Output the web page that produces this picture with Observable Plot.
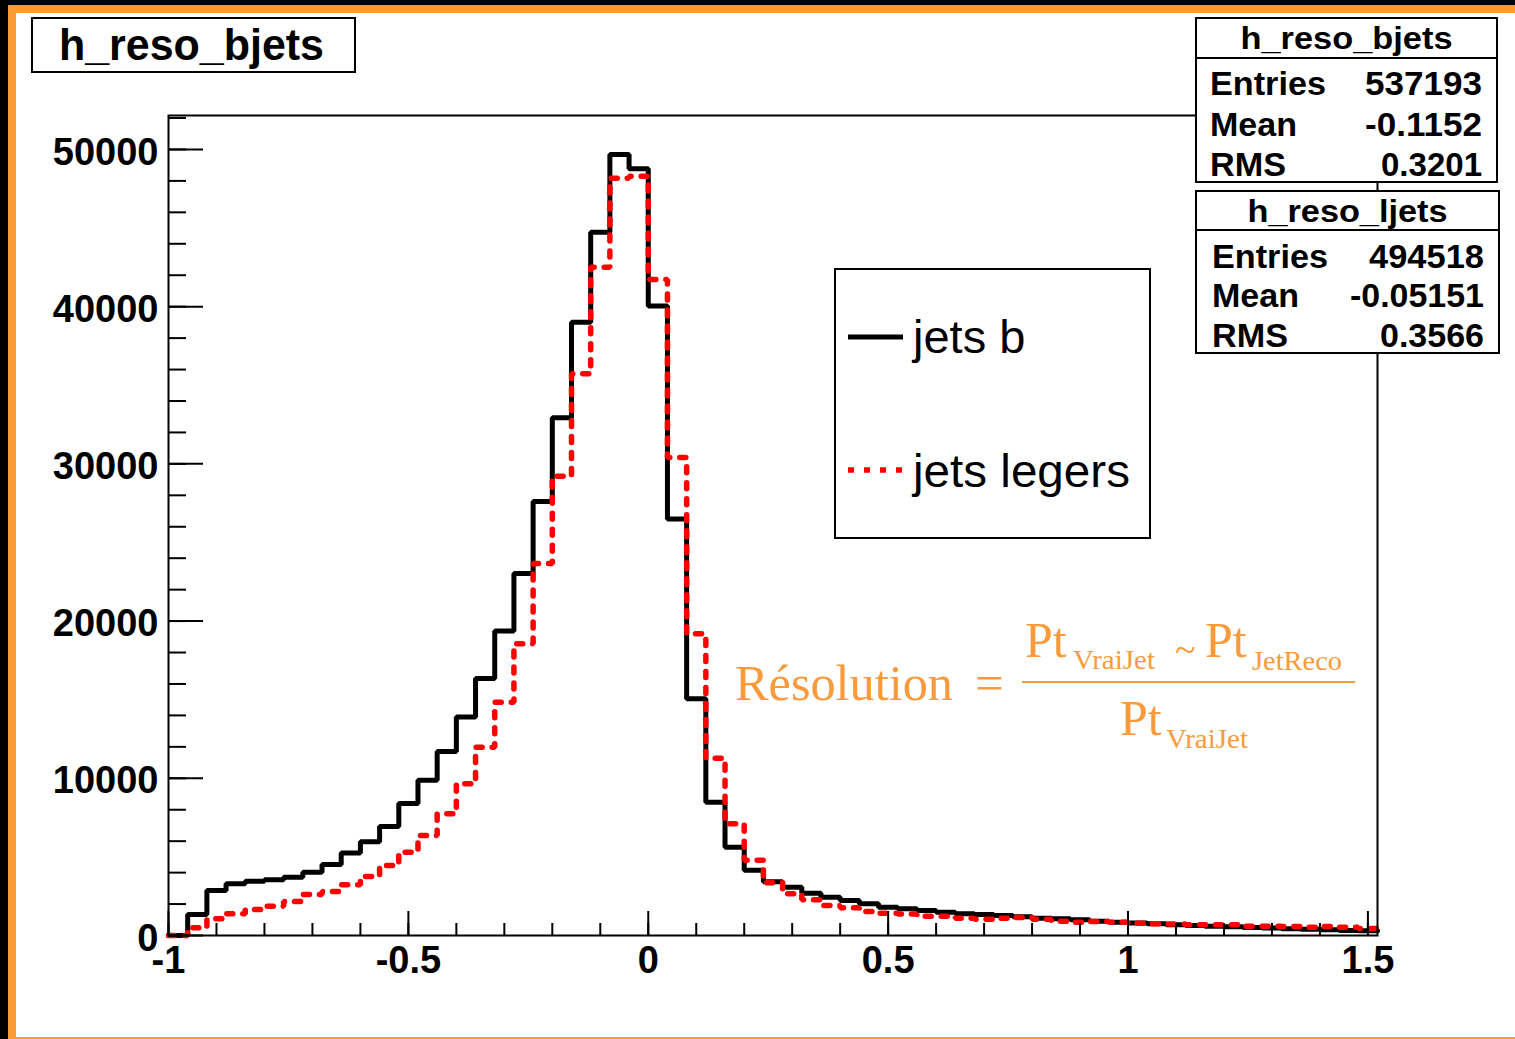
<!DOCTYPE html>
<html><head><meta charset="utf-8">
<script src="https://cdn.jsdelivr.net/npm/d3@7"></script>
<script src="https://cdn.jsdelivr.net/npm/@observablehq/plot@0.6"></script>
<style>
body{margin:0;background:#fff;}
#wrap{position:relative;width:1515px;height:1039px;overflow:hidden;background:#fff;font-family:"Liberation Sans",Arial,sans-serif;}
#wrap > svg{position:absolute;left:0;top:0;}
.band{position:absolute;}
</style></head><body>
<div id="wrap"></div>
<script>
// ---- data ----
const binLow = -1;
const binWidth = 0.04;
const bjets = [0, 1340, 2860, 3290, 3450, 3540, 3710, 4030, 4520, 5240,
  5960, 6930, 8390, 9880, 11700, 13900, 16340, 19370, 23030, 27610,
  32930, 39010, 44740, 49680, 48770, 40050, 26500, 15060, 8480, 5620,
  4150, 3420, 3070, 2690, 2440, 2230, 2020, 1800, 1700, 1590,
  1480, 1380, 1340, 1270, 1190, 1100, 1060, 1000, 910, 850,
  800, 740, 680, 640, 590, 550, 510, 470, 430, 400,
  360, 320, 300];
const ljets = [0, 490, 1060, 1380, 1650, 1860, 2160, 2610, 2800, 3230,
  3750, 4450, 5300, 6360, 7740, 9650, 11980, 14840, 18560, 23660,
  29220, 35730, 42510, 48170, 48300, 41730, 30400, 19190, 11280, 7110,
  4790, 3360, 2660, 2270, 1910, 1760, 1530, 1420, 1370, 1230,
  1230, 1100, 1030, 1090, 1150, 1040, 910, 850, 890, 850,
  780, 740, 730, 690, 680, 680, 590, 590, 570, 530,
  580, 530, 440];
const xMajor = [-1, -0.5, 0, 0.5, 1, 1.5];
const xMajorLabels = ["-1", "-0.5", "0", "0.5", "1", "1.5"];
const xMinor = [-1, -0.9, -0.8, -0.7, -0.6, -0.5, -0.4, -0.3, -0.2, -0.1, 0, 0.1, 0.2, 0.3, 0.4, 0.5, 0.6, 0.7, 0.8, 0.9, 1, 1.1, 1.2, 1.3, 1.4, 1.5];
const yMajor = [0, 10000, 20000, 30000, 40000, 50000];
const yMinor = [0, 2000, 4000, 6000, 8000, 10000, 12000, 14000, 16000, 18000, 20000, 22000, 24000, 26000, 28000, 30000, 32000, 34000, 36000, 38000, 40000, 42000, 44000, 46000, 48000, 50000, 52000];
const xDomain = [-1, 1.52];
const yDomain = [0, 52160];
const histTitle = "h_reso_bjets";
const statNames = ["Entries", "Mean", "RMS"];
const statsBjets = ["537193", "-0.1152", "0.3201"];
const statsLjets = ["494518", "-0.05151", "0.3566"];
const legendLabels = ["jets b", "jets legers"];
const seriesColors = ["black", "#ff0000"];

function steps(vals) {
  const pts = vals.map((v, i) => ({x: binLow + i * binWidth, y: v}));
  pts.push({x: binLow + vals.length * binWidth, y: vals[vals.length - 1]});
  return pts;
}

const wrap = document.getElementById("wrap");
const axisFont = {fontSize: 38, fontWeight: "bold"};

const chart = Plot.plot({
  width: 1515, height: 1039,
  marginLeft: 168, marginRight: 138, marginTop: 115, marginBottom: 104,
  x: {domain: xDomain, label: null},
  y: {domain: yDomain, label: null},
  style: {fontFamily: "'Liberation Sans', Arial, sans-serif", background: "white", color: "black", overflow: "visible"},
  marks: [
    Plot.line(steps(bjets), {x: "x", y: "y", curve: "step-after", stroke: seriesColors[0], strokeWidth: 5, strokeLinejoin: "miter"}),
    Plot.line(steps(ljets), {x: "x", y: "y", curve: "step-after", stroke: seriesColors[1], strokeWidth: 5.5, strokeDasharray: "6,10", strokeLinejoin: "miter"}),
    Plot.axisY(yMinor, {tickSize: -18, strokeWidth: 2, tickFormat: () => "", label: null}),
    Plot.axisY(yMajor, {tickSize: -35, strokeWidth: 2, tickFormat: () => "", label: null}),
    Plot.axisY(yMajor, {tickSize: 0, tickPadding: 10, dy: 3, ...axisFont, tickFormat: d => String(d), label: null}),
    Plot.axisX(xMinor, {tickSize: -12, strokeWidth: 2, tickFormat: () => "", label: null}),
    Plot.axisX(xMajor, {tickSize: -24, strokeWidth: 2, tickFormat: () => "", label: null}),
    Plot.axisX(xMajor, {tickSize: 0, tickPadding: 10, dy: 1, ...axisFont, tickFormat: (d) => xMajorLabels[xMajor.indexOf(d)], label: null}),
    Plot.frame({stroke: "black", strokeWidth: 2})
  ]
});
wrap.appendChild(chart);

// ---- overlay: title box, stats boxes, legend, formula ----
const ov = d3.select(wrap).append("svg")
  .attr("width", 1515).attr("height", 1039)
  .style("font-family", "'Liberation Sans', Arial, sans-serif");

// title box
ov.append("rect").attr("x", 32).attr("y", 18).attr("width", 323).attr("height", 54)
  .attr("fill", "white").attr("stroke", "black").attr("stroke-width", 2);
ov.append("text").attr("x", 59).attr("y", 60).attr("font-size", 44).attr("font-weight", "bold")
  .attr("textLength", 265).attr("lengthAdjust", "spacingAndGlyphs").text(histTitle);

// stats boxes
function statsBox(x, y, w, h, lineY, headY, title, titleW, rowsY, vals, nameW, valW, padL, padR) {
  ov.append("rect").attr("x", x).attr("y", y).attr("width", w).attr("height", h)
    .attr("fill", "white").attr("stroke", "black").attr("stroke-width", 2);
  ov.append("line").attr("x1", x).attr("x2", x + w).attr("y1", lineY).attr("y2", lineY)
    .attr("stroke", "black").attr("stroke-width", 2);
  ov.append("text").attr("x", x + w / 2).attr("y", headY).attr("text-anchor", "middle")
    .attr("font-size", 32).attr("font-weight", "bold")
    .attr("textLength", titleW).attr("lengthAdjust", "spacingAndGlyphs").text(title);
  statNames.forEach((n, i) => {
    ov.append("text").attr("x", x + padL).attr("y", rowsY[i]).attr("font-size", 33).attr("font-weight", "bold")
      .attr("textLength", nameW[i]).attr("lengthAdjust", "spacingAndGlyphs").text(n);
    ov.append("text").attr("x", x + w - padR).attr("y", rowsY[i]).attr("text-anchor", "end")
      .attr("font-size", 33).attr("font-weight", "bold")
      .attr("textLength", valW[i]).attr("lengthAdjust", "spacingAndGlyphs").text(vals[i]);
  });
}
statsBox(1196, 18, 301, 164, 58, 49, "h_reso_bjets", 212, [95, 136, 176], statsBjets, [116, 87, 76], [117, 117, 101], 14, 15);
statsBox(1196, 191, 303, 162, 230, 222, "h_reso_ljets", 200, [268, 307, 347], statsLjets, [116, 87, 76], [115, 134, 104], 16, 15);

// legend
ov.append("rect").attr("x", 835).attr("y", 269).attr("width", 315).attr("height", 269)
  .attr("fill", "white").attr("stroke", "black").attr("stroke-width", 2);
ov.append("line").attr("x1", 848).attr("x2", 903).attr("y1", 337).attr("y2", 337)
  .attr("stroke", seriesColors[0]).attr("stroke-width", 5);
ov.append("line").attr("x1", 848).attr("x2", 903).attr("y1", 470).attr("y2", 470)
  .attr("stroke", seriesColors[1]).attr("stroke-width", 5.5).attr("stroke-dasharray", "6,10");
ov.append("text").attr("x", 913).attr("y", 353).attr("font-size", 47).text(legendLabels[0]);
ov.append("text").attr("x", 913).attr("y", 487).attr("font-size", 47).attr("textLength", 217).attr("lengthAdjust", "spacingAndGlyphs").text(legendLabels[1]);

// formula
const orange = "#f99b3c";
const f = ov.append("g").attr("fill", orange).style("font-family", "'Liberation Serif', 'Times New Roman', serif");
f.append("text").attr("x", 735).attr("y", 700).attr("font-size", 51).attr("textLength", 218).attr("lengthAdjust", "spacingAndGlyphs").text("Résolution");
f.append("text").attr("x", 975).attr("y", 700).attr("font-size", 51).text("=");
f.append("line").attr("x1", 1022).attr("x2", 1355).attr("y1", 682).attr("y2", 682).attr("stroke", orange).attr("stroke-width", 2);
f.append("text").attr("x", 1025).attr("y", 657).attr("font-size", 50).text("Pt");
f.append("text").attr("x", 1073).attr("y", 669).attr("font-size", 28).attr("textLength", 82).attr("lengthAdjust", "spacingAndGlyphs").text("VraiJet");
f.append("text").attr("x", 1175).attr("y", 662).attr("font-size", 38).text("~");
f.append("text").attr("x", 1205).attr("y", 657).attr("font-size", 50).text("Pt");
f.append("text").attr("x", 1252).attr("y", 670).attr("font-size", 28).attr("textLength", 90).attr("lengthAdjust", "spacingAndGlyphs").text("JetReco");
f.append("text").attr("x", 1120).attr("y", 735).attr("font-size", 50).text("Pt");
f.append("text").attr("x", 1166).attr("y", 748).attr("font-size", 28).attr("textLength", 82).attr("lengthAdjust", "spacingAndGlyphs").text("VraiJet");

// page borders (ROOT canvas frame)
[["0px","0px","8px","1039px","#000"],["8px","5px","8px","1034px","#fa9a36"],
 ["0px","0px","1515px","5px","#000"],["8px","5px","1507px","8px","#fa9a36"],
 ["16px","1037px","1499px","2px","#fa9a36"]].forEach(([l,t,w,h,c]) => {
  const d = document.createElement("div");
  d.className = "band";
  Object.assign(d.style, {left: l, top: t, width: w, height: h, background: c});
  wrap.appendChild(d);
});
</script>
</body></html>
